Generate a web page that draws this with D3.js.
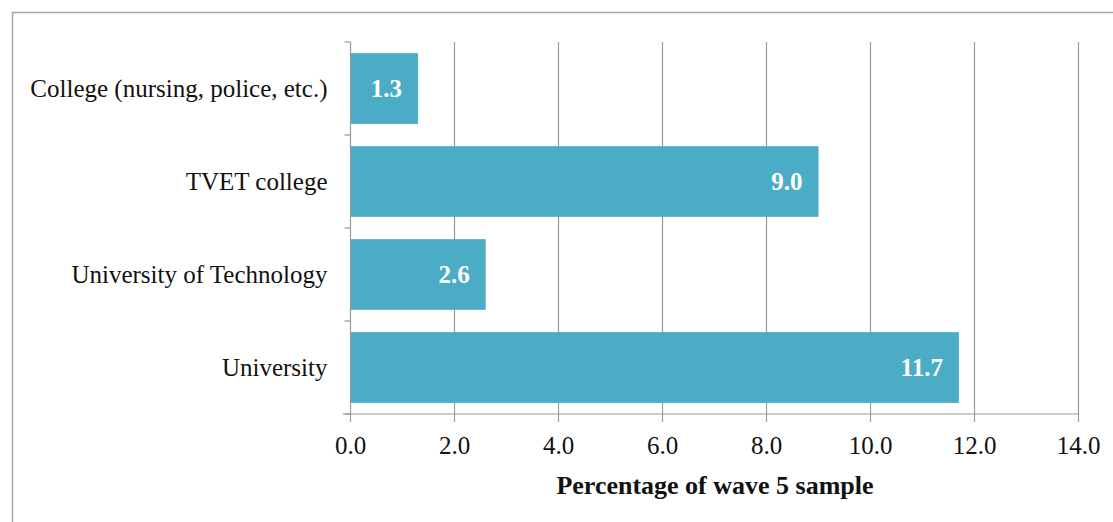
<!DOCTYPE html>
<html><head><meta charset="utf-8">
<script src="https://cdn.jsdelivr.net/npm/d3@7"></script>
<style>body{margin:0;background:#fff}svg{display:block}</style>
</head><body>
<script>
const categories = ["College (nursing, police, etc.)", "TVET college", "University of Technology", "University"];
const values = [1.3, 9.0, 2.6, 11.7];
const xTicks = [0, 2, 4, 6, 8, 10, 12, 14];
const xTitle = "Percentage of wave 5 sample";

const W = 1113, H = 522;
const svg = d3.select("body").append("svg").attr("width", W).attr("height", H);
const font = "'Liberation Serif', 'Times New Roman', serif";

svg.append("rect").attr("x", 12.5).attr("y", 12.5).attr("width", 1110).attr("height", 520)
  .attr("fill", "none").attr("stroke", "#a6a6a6").attr("stroke-width", 1.5);

const m = {left: 350.5, right: 1078.5, top: 42, bottom: 414};
const x = d3.scaleLinear().domain([0, 14]).range([m.left, m.right]);
const y = d3.scaleBand().domain(categories).range([m.top, m.bottom]).paddingInner(0.24).paddingOuter(0.12);

// gridlines
svg.append("g").selectAll("line").data(xTicks.slice(1)).join("line")
  .attr("x1", d => x(d)).attr("x2", d => x(d)).attr("y1", m.top).attr("y2", m.bottom)
  .attr("stroke", "#9a9a9a").attr("stroke-width", 1.2);

// bars
svg.append("g").selectAll("rect").data(values).join("rect")
  .attr("x", x(0)).attr("y", (d, i) => y(categories[i]))
  .attr("width", d => x(d) - x(0)).attr("height", y.bandwidth())
  .attr("fill", "#4bacc6");

// value labels
svg.append("g").selectAll("text").data(values).join("text")
  .attr("x", d => x(d) - 16).attr("y", (d, i) => y(categories[i]) + y.bandwidth() / 2)
  .attr("dy", "0.35em").attr("text-anchor", "end")
  .attr("fill", "#fff").attr("font-family", font).attr("font-weight", "bold").attr("font-size", 25)
  .text(d => d.toFixed(1));

// y axis
const yEdges = d3.range(categories.length + 1).map(i => m.top + i * (m.bottom - m.top) / categories.length);
const ya = svg.append("g").attr("stroke", "#9a9a9a").attr("stroke-width", 1.2);
ya.append("line").attr("x1", m.left).attr("x2", m.left).attr("y1", m.top).attr("y2", m.bottom);
ya.selectAll("line.t").data(yEdges).join("line").attr("class", "t")
  .attr("x1", m.left - 6).attr("x2", m.left).attr("y1", d => d).attr("y2", d => d);
svg.append("g").selectAll("text").data(categories).join("text")
  .attr("x", m.left - 23).attr("y", d => y(d) + y.bandwidth() / 2).attr("dy", "0.35em")
  .attr("text-anchor", "end").attr("font-family", font).attr("font-size", 25).attr("fill", "#111")
  .text(d => d);

// x axis
const xa = svg.append("g").attr("stroke", "#9a9a9a").attr("stroke-width", 1.2);
xa.append("line").attr("x1", m.left - 8).attr("x2", m.right).attr("y1", m.bottom).attr("y2", m.bottom);
xa.selectAll("line.t").data(xTicks).join("line").attr("class", "t")
  .attr("x1", d => x(d)).attr("x2", d => x(d)).attr("y1", m.bottom).attr("y2", m.bottom + 8);
svg.append("g").selectAll("text").data(xTicks).join("text")
  .attr("x", d => x(d)).attr("y", 454).attr("text-anchor", "middle")
  .attr("font-family", font).attr("font-size", 25).attr("fill", "#111")
  .text(d => d.toFixed(1));

svg.append("text").attr("x", (m.left + m.right) / 2 + 0.5).attr("y", 494).attr("text-anchor", "middle")
  .attr("font-family", font).attr("font-weight", "bold").attr("font-size", 26).attr("fill", "#111")
  .text(xTitle);
</script>
</body></html>
